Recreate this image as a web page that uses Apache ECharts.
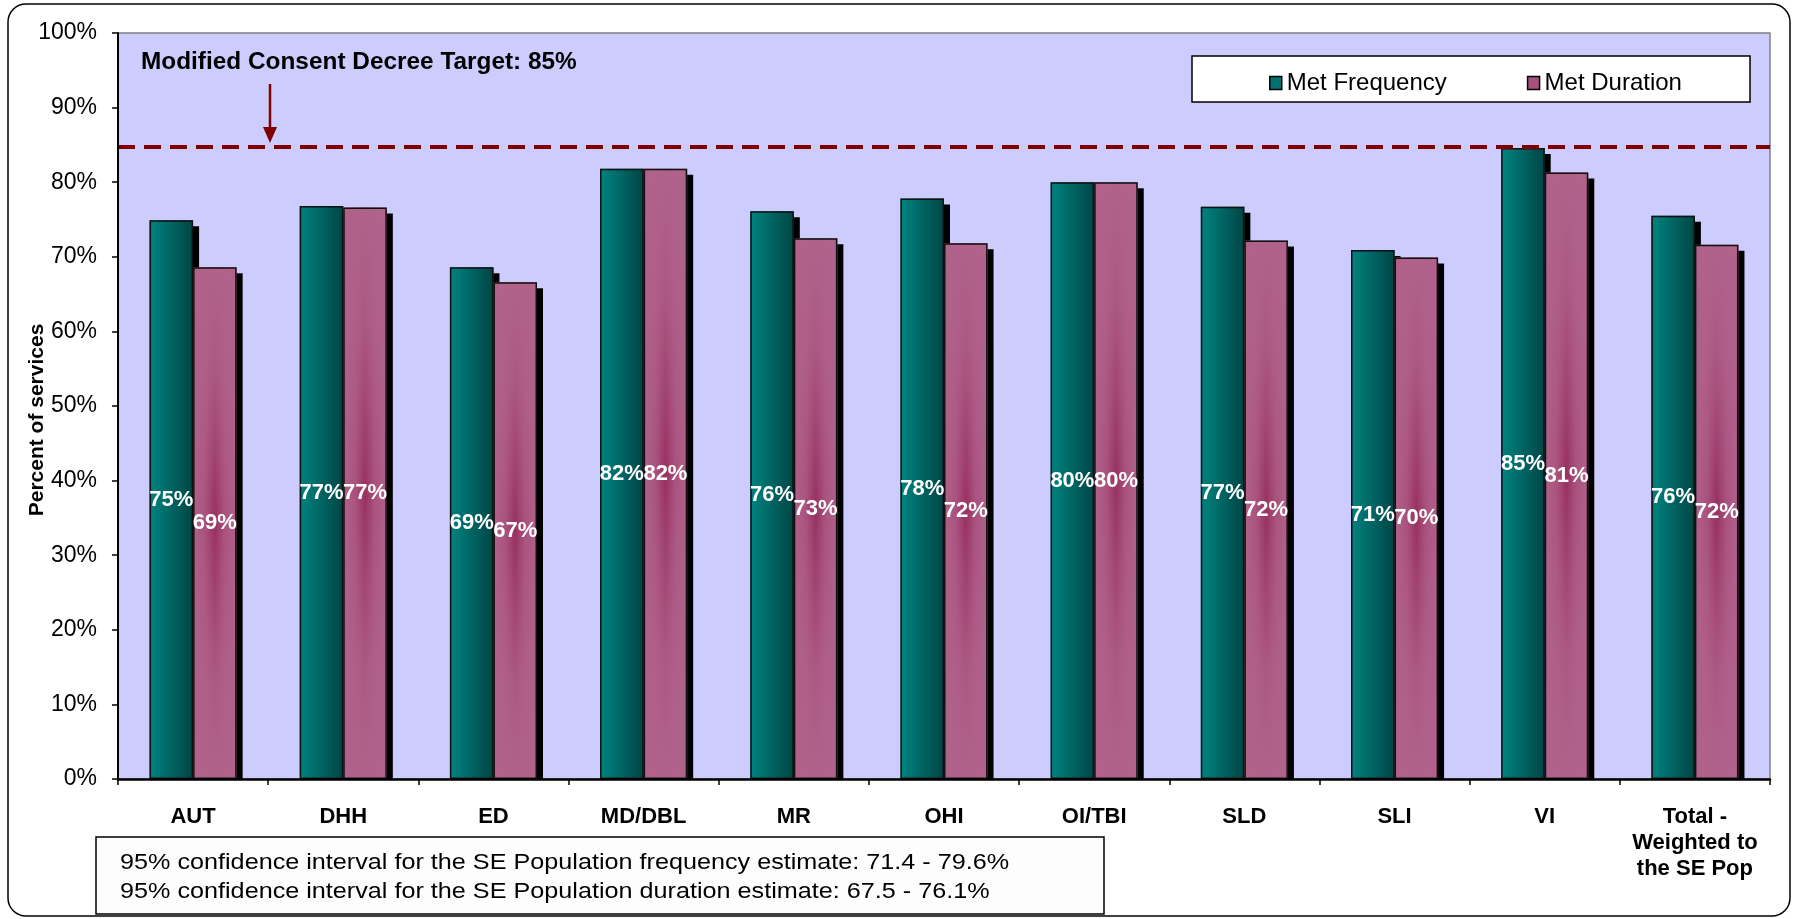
<!DOCTYPE html>
<html>
<head>
<meta charset="utf-8">
<script src="https://cdn.jsdelivr.net/npm/echarts@6/dist/echarts.min.js"></script>
<style>
html,body{margin:0;padding:0;background:#fff;}
#chart{width:1794px;height:919px;}
</style>
</head>
<body>
<div id="chart"></div>
<script>
const categories = ['AUT','DHH','ED','MD/DBL','MR','OHI','OI/TBI','SLD','SLI','VI','Total -\nWeighted to\nthe SE Pop'];
const metFrequency = [74.9, 76.8, 68.6, 81.8, 76.1, 77.8, 80.0, 76.7, 70.9, 84.6, 75.5];
const metDuration  = [68.6, 76.6, 66.6, 81.8, 72.5, 71.8, 80.0, 72.2, 69.9, 81.3, 71.6];
const seriesNames = ['Met Frequency', 'Met Duration'];
const yMin = 0, yMax = 100, yInterval = 10;
const targetValue = 84.7;
const targetText = 'Modified Consent Decree Target: 85%';
const yAxisTitle = 'Percent of services';
const ciLines = [
  '95% confidence interval for the SE Population frequency estimate: 71.4 - 79.6%',
  '95% confidence interval for the SE Population duration estimate: 67.5 - 76.1%'
];

const FONT = "'Liberation Sans', Arial, sans-serif";
const chart = echarts.init(document.getElementById('chart'), null, {renderer: 'canvas'});

const tealGrad = new echarts.graphic.LinearGradient(0, 0, 1, 0, [
  {offset: 0, color: '#008480'},
  {offset: 1, color: '#004545'}
]);
// pink: horizontal light-dark-light base, with a vertical light veil on top
const pinkBase = new echarts.graphic.LinearGradient(0, 0, 1, 0, [
  {offset: 0, color: '#B0628A'},
  {offset: 0.28, color: '#A9527E'},
  {offset: 0.5, color: '#97305F'},
  {offset: 0.72, color: '#A9527E'},
  {offset: 1, color: '#B0628A'}
]);
const pinkVeil = new echarts.graphic.LinearGradient(0, 0, 0, 1, [
  {offset: 0, color: 'rgba(176,98,138,1)'},
  {offset: 0.2, color: 'rgba(176,98,138,0.8)'},
  {offset: 0.5, color: 'rgba(176,98,138,0)'},
  {offset: 0.8, color: 'rgba(176,98,138,0.8)'},
  {offset: 1, color: 'rgba(176,98,138,1)'}
]);

const labelStyle = {
  show: true,
  position: 'inside',
  color: '#fff',
  fontFamily: FONT,
  fontWeight: 'bold',
  fontSize: 22,
  formatter: p => Math.round(p.value) + '%'
};

const BAR_GAP = '0%', CAT_GAP = '42%';

const fillSeries = (name, data, fill) => ({
  name, type: 'bar', data, xAxisIndex: 0, z: 2,
  barGap: BAR_GAP, barCategoryGap: CAT_GAP,
  itemStyle: {color: fill, borderWidth: 0, shadowColor: '#000', shadowBlur: 0, shadowOffsetX: 6, shadowOffsetY: 6},
  label: {show: false}
});
const outlineSeries = (name, data, fill) => ({
  name, type: 'bar', data, xAxisIndex: 1, z: 3, silent: true,
  barGap: BAR_GAP, barCategoryGap: CAT_GAP,
  itemStyle: {color: fill, borderColor: '#111', borderWidth: 1.5},
  label: labelStyle, tooltip: {show: false}
});

const s0 = fillSeries(seriesNames[0], metFrequency, tealGrad);
s0.markLine = {
  silent: true, symbol: 'none',
  label: {show: false},
  lineStyle: {color: '#800000', width: 4, type: [17, 9]},
  data: [{yAxis: targetValue}]
};

chart.setOption({
  animation: false,
  textStyle: {fontFamily: FONT},
  grid: {
    left: 118, right: 24, top: 33, bottom: 140,
    show: true, backgroundColor: '#CCCCFF', borderColor: '#808080', borderWidth: 1.5
  },
  legend: {
    left: 1264, top: 66,
    itemWidth: 12, itemHeight: 13, itemGap: 80,
    icon: 'rect',
    textStyle: {fontSize: 24, color: '#000', fontFamily: FONT},
    itemStyle: {borderColor: '#000', borderWidth: 1.5, shadowColor: 'rgba(0,0,0,0)', shadowOffsetX: 0, shadowOffsetY: 0},
    data: [
      {name: seriesNames[0], itemStyle: {color: '#007070'}},
      {name: seriesNames[1], itemStyle: {color: '#A8507E'}}
    ]
  },
  xAxis: [{
    type: 'category',
    data: categories,
    z: 10,
    axisLine: {lineStyle: {color: '#000', width: 2.5}},
    axisTick: {show: true, length: 6, lineStyle: {color: '#000', width: 1.5}},
    axisLabel: {
      interval: 0, margin: 25, fontSize: 22, fontWeight: 'bold', color: '#000',
      lineHeight: 26, fontFamily: FONT
    }
  }, {
    type: 'category',
    data: categories,
    show: false
  }],
  yAxis: {
    type: 'value',
    min: yMin, max: yMax, interval: yInterval,
    z: 10,
    splitLine: {show: false},
    axisLine: {show: true, lineStyle: {color: '#000', width: 2}},
    axisTick: {show: true, length: 6, lineStyle: {color: '#000', width: 1.5}},
    axisLabel: {formatter: '{value}%', fontSize: 23, color: '#000', margin: 21, fontFamily: FONT}
  },
  series: [
    s0,
    fillSeries(seriesNames[1], metDuration, pinkBase),
    outlineSeries('outline-frequency', metFrequency, 'rgba(0,0,0,0)'),
    outlineSeries('outline-duration', metDuration, pinkVeil)
  ],
  graphic: [
    {type: 'rect', z: 100, shape: {x: 8, y: 4, width: 1782, height: 912, r: 18},
     style: {fill: 'none', stroke: '#000', lineWidth: 1.5}},
    {type: 'rect', z: 5, shape: {x: 119, y: 780, width: 1660, height: 8},
     style: {fill: '#fff'}},
    {type: 'rect', z: 1, shape: {x: 1192, y: 56, width: 558, height: 46},
     style: {fill: '#fff', stroke: '#000', lineWidth: 1.5}},
    {type: 'text', z: 50, x: 141, y: 63, scaleX: 1.06,
     style: {text: targetText, fontSize: 23, fontWeight: 'bold', fill: '#000', fontFamily: FONT, verticalAlign: 'middle'}},
    {type: 'line', z: 50, shape: {x1: 270, y1: 84, x2: 270, y2: 130},
     style: {stroke: '#800000', lineWidth: 2.5}},
    {type: 'polygon', z: 50, shape: {points: [[263, 127], [277, 127], [270, 143]]},
     style: {fill: '#800000'}},
    {type: 'text', z: 50, x: 37, y: 420, rotation: Math.PI / 2,
     style: {text: yAxisTitle, fontSize: 21, fontWeight: 'bold', fill: '#000', fontFamily: FONT, align: 'center', verticalAlign: 'middle'}},
    {type: 'rect', z: 50, shape: {x: 96, y: 837, width: 1008, height: 77},
     style: {fill: '#FDFDFD', stroke: '#000', lineWidth: 1.5}},
    {type: 'text', z: 51, x: 120, y: 863, scaleX: 1.145,
     style: {text: ciLines[0], fontSize: 22, fill: '#000', fontFamily: FONT, verticalAlign: 'middle'}},
    {type: 'text', z: 51, x: 120, y: 892, scaleX: 1.145,
     style: {text: ciLines[1], fontSize: 22, fill: '#000', fontFamily: FONT, verticalAlign: 'middle'}}
  ]
});
</script>
</body>
</html>
